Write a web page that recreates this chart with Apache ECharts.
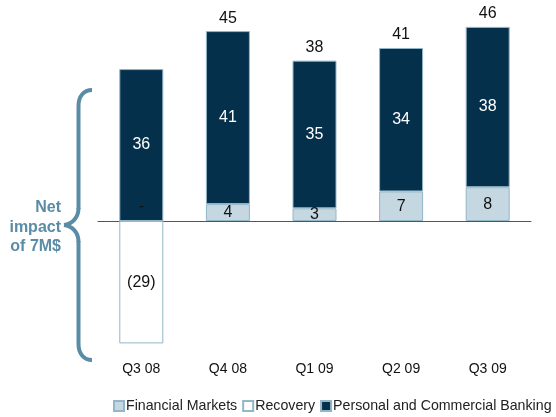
<!DOCTYPE html>
<html>
<head>
<meta charset="utf-8">
<script src="https://cdn.jsdelivr.net/npm/echarts@6/dist/echarts.min.js"></script>
<style>html,body{margin:0;padding:0;background:#fff}#c{width:556px;height:417px}</style>
</head>
<body>
<div id="c"></div>
<script>
const categories = ['Q3 08', 'Q4 08', 'Q1 09', 'Q2 09', 'Q3 09'];
const financialMarkets = [0, 4, 3, 7, 8];
const recovery = [-29, null, null, null, null];
const personalCommercial = [36, 41, 35, 34, 38];
const totals = [null, 45, 38, 41, 46];

const FONT = 'Liberation Sans, Arial, sans-serif';
const chart = echarts.init(document.getElementById('c'));
const borderCol = '#93b6c9';
const braceCol = '#5b8ca6';
const braceStyle = { fill: null, stroke: braceCol, lineWidth: 4 };

function bez(x1, y1, cx1, cy1, cx2, cy2, x2, y2) {
  return { type: 'bezierCurve', shape: { x1, y1, cpx1: cx1, cpy1: cy1, cpx2: cx2, cpy2: cy2, x2, y2 }, style: braceStyle };
}
function seg(x1, y1, x2, y2) {
  return { type: 'line', shape: { x1, y1, x2, y2 }, style: braceStyle };
}

chart.setOption({
  animation: false,
  textStyle: { fontFamily: FONT },
  grid: { left: 98, right: 25, top: 10, bottom: 69.4, containLabel: false },
  legend: {
    left: 113, top: 399, width: 443, padding: 0,
    itemWidth: 10, itemHeight: 10, itemGap: 5,
    icon: 'rect',
    data: ['Financial Markets', 'Recovery', 'Personal and Commercial Banking'],
    textStyle: { fontFamily: FONT, fontSize: 14.2, color: '#222', padding: [0, 0, 0, -3] }
  },
  xAxis: [
    {
      type: 'category',
      data: categories,
      position: 'bottom',
      axisLine: { show: false, onZero: false },
      axisTick: { show: false },
      axisLabel: { margin: 15, fontSize: 14, color: '#111', fontFamily: FONT }
    },
    {
      type: 'category',
      data: categories,
      position: 'bottom',
      axisLine: { show: true, onZero: true, lineStyle: { color: '#555', width: 1 } },
      axisTick: { inside: true, length: 4, lineStyle: { color: '#555' } },
      axisLabel: { show: false }
    }
  ],
  yAxis: {
    type: 'value', min: -30, max: 50, show: false, splitLine: { show: false }
  },
  series: [
    {
      name: 'Financial Markets', type: 'bar', stack: 's', barWidth: 44,
      data: financialMarkets.map((v, i) => v === 0 ? { value: v, label: { formatter: '-', offset: [0, -14] } } : v),
      itemStyle: { color: '#c5d8e2', borderColor: borderCol, borderWidth: 1 },
      label: { show: true, position: 'inside', color: '#111', fontSize: 16, fontFamily: FONT }
    },
    {
      name: 'Recovery', type: 'bar', stack: 's', barWidth: 44,
      data: recovery,
      itemStyle: { color: '#ffffff', borderColor: borderCol, borderWidth: 1 },
      label: { show: true, position: 'inside', color: '#111', fontSize: 16, fontFamily: FONT,
        formatter: p => '(' + Math.abs(p.value) + ')' }
    },
    {
      name: 'Personal and Commercial Banking', type: 'bar', stack: 's', barWidth: 44,
      data: personalCommercial,
      itemStyle: { color: '#04304b', borderColor: borderCol, borderWidth: 1 },
      label: { show: true, position: 'inside', color: '#fff', fontSize: 16, fontFamily: FONT }
    },
    {
      name: 'Total', type: 'bar', barWidth: 44, barGap: '-100%', z: 1,
      data: totals,
      itemStyle: { color: 'rgba(0,0,0,0)' },
      label: { show: true, position: 'top', distance: 5, color: '#111', fontSize: 16, fontFamily: FONT }
    }
  ],
  graphic: [
    bez(92, 90, 84, 90, 78.5, 96, 78.5, 106),
    seg(78.5, 106, 78.5, 209),
    bez(78.5, 208, 78.5, 218, 72, 224, 64, 225),
    bez(64, 225, 72, 226, 78.5, 232, 78.5, 242),
    seg(78.5, 241, 78.5, 344),
    bez(78.5, 344, 78.5, 354, 84, 360, 92, 360),
    {
      type: 'text', x: 61, y: 198,
      style: { text: 'Net\nimpact\nof 7M$', align: 'right', fill: braceCol, font: 'bold 16px ' + FONT, lineHeight: 19.5 }
    }
  ]
});
</script>
</body>
</html>
